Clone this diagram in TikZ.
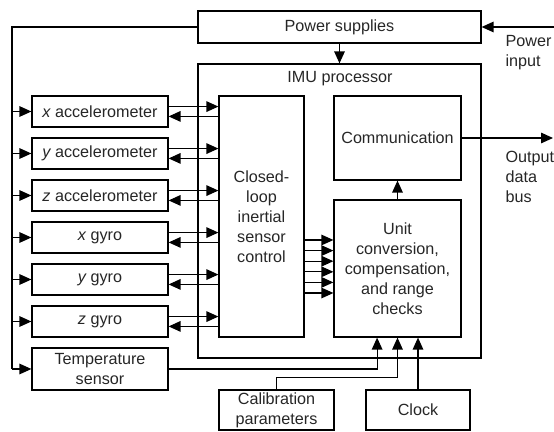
\documentclass[tikz,border=0pt]{standalone}
\usepackage{fontspec}
\setmainfont{Liberation Sans}
\usetikzlibrary{arrows.meta}

\tikzset{
  blk/.style={draw, inner sep=0pt, align=center, text=black!85,
    font=\fontsize{11.5}{14.2}\selectfont},
  sensbox/.style={blk, minimum width=3.4cm, minimum height=0.775cm},
  lbl/.style={inner sep=0pt, align=left, text=black!85,
    font=\fontsize{11.5}{14.2}\selectfont},
}

\begin{document}
\begin{tikzpicture}[x=0.025cm,y=-0.025cm,line width=0.85pt,
    >={Triangle[length=8.5pt,width=7.5pt]}]
        \useasboundingbox (0,0) rectangle (554,432);

        % supply and processor
        \node[blk, minimum width=7.075cm, minimum height=0.8cm] (power) at (339.5,27) {Power supplies};
        \node[blk, minimum width=7.075cm, minimum height=7.35cm] (imu) at (339.5,211) {};
        \node[lbl] (imulbl) at (340,79) {IMU processor};

        % sensors
        \foreach \n/\t [count=\i from 0] in {xacc/{\itshape x} accelerometer,
            yacc/{\itshape y} accelerometer, zacc/{\itshape z} accelerometer,
            xgyro/{\itshape x} gyro, ygyro/{\itshape y} gyro, zgyro/{\itshape z} gyro}
        \node[sensbox] (\n) at (100,111.5+42*\i) {\t};
        \node[blk, minimum width=3.4cm, minimum height=1.05cm] (temp) at (100,369) {Temperature\\sensor};

        \node[blk, minimum width=2.125cm, minimum height=6.025cm] (cl) at (261.5,216.5)
            {Closed-\\loop\\inertial\\sensor\\control};
        \node[blk, minimum width=3.175cm, minimum height=2.1cm] (comm) at (397.5,138) {Communication};
        \node[blk, minimum width=3.175cm, minimum height=3.425cm] (unit) at (397.5,268.5)
            {Unit\\conversion,\\compensation,\\and range\\checks};
        \node[blk, minimum width=2.875cm, minimum height=1cm] (calib) at (276.5,410) {Calibration\\parameters};
        \node[blk, minimum width=2.6cm, minimum height=1cm] (clock) at (418,410) {Clock};

        \node[lbl, anchor=west] (pinlbl) at (505,52.7) {Power\\input};
        \node[lbl, anchor=west] (poutlbl) at (505,177) {Output\\data\\bus};

        \coordinate (pin) at (554,27);
        \coordinate (pout) at (553,138);
        \coordinate (bus) at (12,27);

        % power lines
        \draw[->] (pin) -- (power.east);
        \draw[->] (power) -- (imu);
        \draw (power.west) -| (bus |- temp.west);
        \foreach \n in {xacc,yacc,zacc,xgyro,ygyro,zgyro,temp}
        \draw[->] (bus |- \n.west) -- (\n.west);

        % signal lines
        \foreach \n in {xacc,yacc,zacc,xgyro,ygyro,zgyro} {
            \draw[->] ([yshift=3.5pt]\n.east) -- ([yshift=3.5pt]\n.east -| cl.west);
            \draw[<-] ([yshift=-3.5pt]\n.east) -- ([yshift=-3.5pt]\n.east -| cl.west);
        }
        \foreach \y in {240,250.6,261.2,271.8,282.4,293}
        \draw[->] (cl.east |- 0,\y) -- (unit.west |- 0,\y);

        \draw[->] (unit) -- (comm);
        \draw[->] (comm.east) -- (pout);
        \draw[->] (temp.east) -| ([xshift=-14.5pt]unit.south);
        \draw[->] (calib.north) -- ++(0,-12) -| (unit.south);
        \draw[->] (clock.north) -- (clock.north |- unit.south);

    \end{tikzpicture}
\end{document}
